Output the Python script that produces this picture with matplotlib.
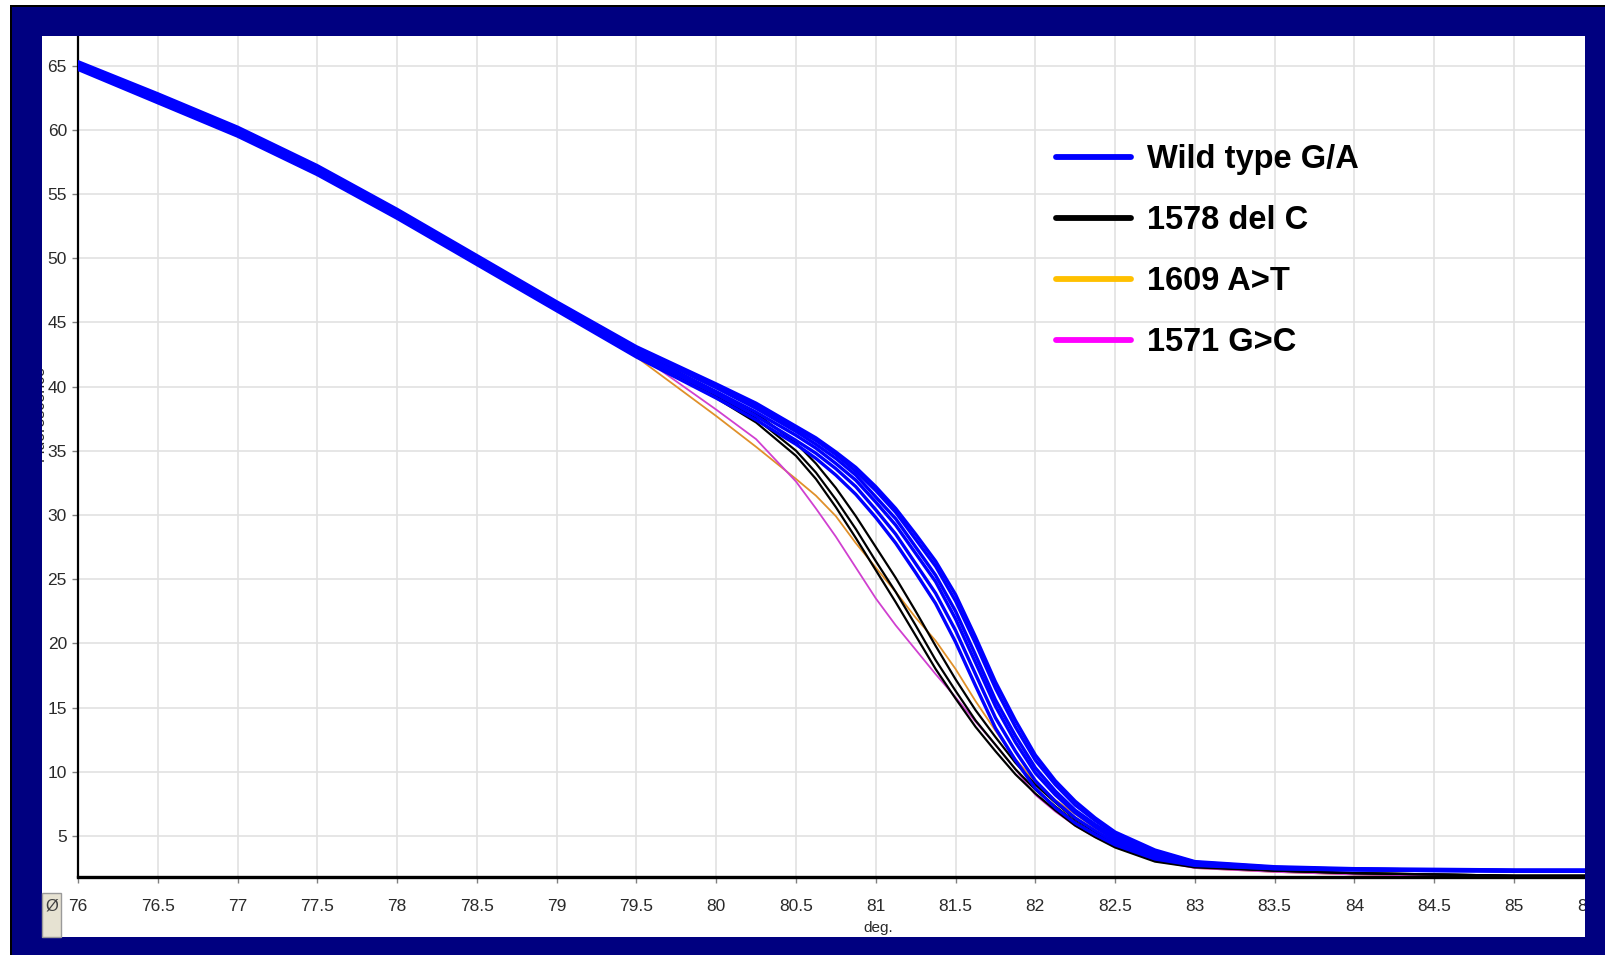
import matplotlib
matplotlib.use("Agg")
import matplotlib.pyplot as plt
from matplotlib.patches import Rectangle
from matplotlib.lines import Line2D
import matplotlib.transforms as mtransforms

# ---------------- data ----------------
temps = [76, 76.5, 77, 77.5, 78, 78.5, 79, 79.5, 80, 80.25, 80.5, 80.625, 80.75, 80.875,
         81, 81.125, 81.25, 81.375, 81.5, 81.625, 81.75, 81.875, 82, 82.125, 82.25,
         82.375, 82.5, 82.75, 83, 83.5, 84, 84.5, 85, 85.45]

wild_1 = [65.3, 62.8, 60.2, 57.2, 53.8, 50.2, 46.6, 43.1, 40.2, 38.7, 36.9, 36.0, 34.9, 33.7,
          32.2, 30.5, 28.5, 26.4, 23.8, 20.5, 17.0, 14.0, 11.3, 9.3, 7.7, 6.4, 5.3, 3.9, 3.0,
          2.6, 2.45, 2.4, 2.35, 2.35]
wild_2 = [65.2, 62.7, 60.1, 57.1, 53.7, 50.1, 46.5, 43.0, 40.0, 38.5, 36.7, 35.8, 34.7, 33.4,
          31.9, 30.2, 28.1, 26.0, 23.3, 20.0, 16.5, 13.5, 10.9, 9.0, 7.4, 6.2, 5.1, 3.8, 2.95,
          2.55, 2.4, 2.35, 2.3, 2.3]
wild_3 = [65.1, 62.6, 60.0, 57.0, 53.6, 50.0, 46.4, 42.9, 39.9, 38.3, 36.5, 35.5, 34.4, 33.1,
          31.4, 29.7, 27.5, 25.3, 22.5, 19.1, 15.6, 12.8, 10.3, 8.5, 7.0, 5.9, 4.9, 3.6, 2.85,
          2.5, 2.4, 2.35, 2.3, 2.3]
wild_4 = [65.0, 62.4, 59.8, 56.8, 53.4, 49.8, 46.2, 42.7, 39.6, 38.0, 36.2, 35.2, 34.0, 32.7,
          31.0, 29.2, 27.0, 24.8, 21.9, 18.5, 15.1, 12.3, 9.9, 8.2, 6.8, 5.7, 4.7, 3.5, 2.8,
          2.5, 2.4, 2.35, 2.3, 2.3]
wild_5 = [64.9, 62.3, 59.6, 56.6, 53.3, 49.6, 46.1, 42.5, 39.4, 37.7, 35.8, 34.8, 33.6, 32.2,
          30.4, 28.5, 26.2, 23.9, 21.0, 17.6, 14.2, 11.6, 9.3, 7.7, 6.4, 5.4, 4.5, 3.35, 2.75,
          2.45, 2.35, 2.3, 2.25, 2.25]
wild_6 = [64.7, 62.1, 59.5, 56.5, 53.1, 49.5, 45.9, 42.3, 39.1, 37.4, 35.5, 34.4, 33.1, 31.6,
          29.8, 27.8, 25.5, 23.1, 20.1, 16.7, 13.4, 10.9, 8.7, 7.2, 6.0, 5.1, 4.3, 3.2, 2.7,
          2.45, 2.35, 2.3, 2.25, 2.25]

del_1 = [65.1, 62.5, 59.9, 56.9, 53.5, 49.9, 46.3, 42.8, 39.6, 37.9, 35.6, 34.0, 32.1, 29.9,
         27.5, 25.1, 22.5, 19.8, 17.2, 14.8, 12.7, 10.7, 9.0, 7.6, 6.3, 5.3, 4.4, 3.2, 2.65,
         2.3, 2.1, 2.0, 1.9, 1.9]
del_2 = [65.0, 62.4, 59.8, 56.8, 53.4, 49.8, 46.2, 42.6, 39.3, 37.5, 35.0, 33.3, 31.2, 28.9,
         26.4, 24.0, 21.4, 18.7, 16.3, 14.0, 12.1, 10.2, 8.6, 7.3, 6.1, 5.1, 4.2, 3.1, 2.6,
         2.3, 2.1, 2.0, 1.9, 1.9]
del_3 = [64.9, 62.3, 59.7, 56.7, 53.3, 49.7, 46.1, 42.5, 39.1, 37.2, 34.6, 32.8, 30.6, 28.2,
         25.7, 23.2, 20.6, 18.0, 15.7, 13.5, 11.6, 9.8, 8.3, 7.0, 5.8, 4.9, 4.1, 3.0, 2.55,
         2.3, 2.1, 2.0, 1.9, 1.9]

at_1609 = [64.9, 62.2, 59.6, 56.6, 53.2, 49.6, 46.0, 42.3, 37.7, 35.3, 32.8, 31.5, 29.9, 27.8,
           25.9, 24.0, 22.0, 20.2, 18.0, 15.5, 13.2, 11.0, 9.2, 7.8, 6.7, 5.6, 4.7, 3.3, 2.5,
           2.2, 2.0, 1.9, 1.85, 1.85]

gc_1571 = [65.0, 62.3, 59.7, 56.7, 53.3, 49.7, 46.1, 42.6, 38.2, 35.9, 32.6, 30.5, 28.3, 25.9,
           23.5, 21.4, 19.5, 17.6, 15.8, 13.9, 12.1, 10.2, 8.2, 6.9, 5.8, 4.9, 4.2, 3.1, 2.5,
           2.2, 2.0, 1.9, 1.85, 1.85]

x_ticks = [76, 76.5, 77, 77.5, 78, 78.5, 79, 79.5, 80, 80.5, 81, 81.5, 82, 82.5, 83, 83.5,
           84, 84.5, 85]
x_tick_labels = ["76", "76.5", "77", "77.5", "78", "78.5", "79", "79.5", "80", "80.5", "81",
                 "81.5", "82", "82.5", "83", "83.5", "84", "84.5", "85"]
y_ticks = [5, 10, 15, 20, 25, 30, 35, 40, 45, 50, 55, 60, 65]
legend_labels = ["Wild type G/A", "1578 del C", "1609 A>T", "1571 G>C"]
legend_colors = ["#0000FF", "#000000", "#FFC000", "#FF00FF"]

# ---------------- figure ----------------
W, H = 1605, 955
NAVY = "#000080"
plt.rcParams["font.family"] = ["Liberation Sans", "DejaVu Sans"]

fig = plt.figure(figsize=(W / 100, H / 100), dpi=100, facecolor=NAVY)


def fig_rect(x0, y0_top, x1, y1_top, color, z):
    # pixel coords measured from top-left
    r = Rectangle((x0 / W, (H - y1_top) / H), (x1 - x0) / W, (y1_top - y0_top) / H,
                  transform=fig.transFigure, facecolor=color, edgecolor="none", zorder=z)
    fig.patches.append(r)
    return r


# white plot panel
fig_rect(42, 36, 1585, 937, "white", -5)

ax = fig.add_axes([78 / W, (H - 877) / H, (1585 - 78) / W, (877 - 36) / H])
ax.set_facecolor("white")

for s in [wild_1, wild_2, wild_3, wild_4, wild_5, wild_6]:
    ax.plot(temps, s, color="#0000FF", lw=2.4, solid_capstyle="round", zorder=5)
for s in [del_1, del_2, del_3]:
    ax.plot(temps, s, color="#000000", lw=1.6, zorder=4)
ax.plot(temps, at_1609, color="#E0902A", lw=1.3, zorder=3)
ax.plot(temps, gc_1571, color="#D040D0", lw=1.3, zorder=3)

ax.set_xlim(76, 85.445)
ax.set_ylim(1.8, 67.3)
ax.set_xticks(x_ticks)
ax.set_xticklabels(x_tick_labels)
ax.set_yticks(y_ticks)

ax.grid(True, color="#E2E2E2", lw=1.2, zorder=0)
ax.set_axisbelow(True)

for side in ["top", "right"]:
    ax.spines[side].set_visible(False)
ax.spines["bottom"].set_linewidth(2.4)
ax.spines["left"].set_linewidth(1.6)
ax.spines["bottom"].set_zorder(6)

TICK_LEN, X_PAD = 4, 12
ax.tick_params(axis="x", direction="out", length=TICK_LEN, width=1, color="#808080",
               pad=X_PAD, labelsize=12.5, labelcolor="#2a2a2a")
ax.tick_params(axis="y", direction="out", length=TICK_LEN, width=1, color="#808080",
               pad=4, labelsize=12.5, labelcolor="#2a2a2a")

# "85.5" tick label at the right edge (partly hidden by the frame, as in the reference)
trans = mtransforms.blended_transform_factory(ax.transData, ax.transAxes)
ax.text(85.5, 0, "85.5", ha="center", va="top", fontsize=12.5, color="#2a2a2a",
        clip_on=False,
        transform=trans + mtransforms.ScaledTranslation(0, -(TICK_LEN + X_PAD) / 72,
                                                        fig.dpi_scale_trans))

# axis titles
fig.text(878 / W, (H - 928) / H, "deg.", ha="center", va="center", fontsize=11,
         color="#2a2a2a")
fig.text(47 / W, (H - 413) / H, "Fluorescence", ha="right", va="center", rotation=90,
         fontsize=11.5, color="#2a2a2a")

# legend
handles = [Line2D([0], [0], color=c, lw=4.2, solid_capstyle="round") for c in legend_colors]
leg = ax.legend(handles, legend_labels, loc="upper left",
                bbox_to_anchor=(1056 / W, (H - 144) / H), bbox_transform=fig.transFigure,
                frameon=False, handlelength=2.3, handletextpad=0.5, labelspacing=0.92,
                borderpad=0, borderaxespad=0,
                prop={"family": "Liberation Sans", "weight": "bold", "size": 23.5})

# navy frame on top (clips overflowing text)
fig_rect(12, 0, 42, H, NAVY, 10)
fig_rect(1585, 0, W, H, NAVY, 10)
fig_rect(12, 7, W, 36, NAVY, 10)
fig_rect(12, 937, W, H, NAVY, 10)
# white outer margins and black border lines
fig_rect(0, 0, 10, H, "white", 11)
fig_rect(0, 0, W, 5, "white", 11)
fig_rect(10, 5, 12, H, "black", 12)
fig_rect(10, 5, W, 7, "black", 12)

# small button bottom-left
btn = Rectangle((42 / W, (H - 937) / H), 19 / W, 44 / H, transform=fig.transFigure,
                facecolor="#E6E2D2", edgecolor="#9a9a9a", lw=1, zorder=13)
fig.patches.append(btn)
fig.text(51.5 / W, (H - 906) / H, "Ø", ha="center", va="center", fontsize=12,
         color="#404040", zorder=14)

fig.savefig("out.png", dpi=100, facecolor=NAVY)
